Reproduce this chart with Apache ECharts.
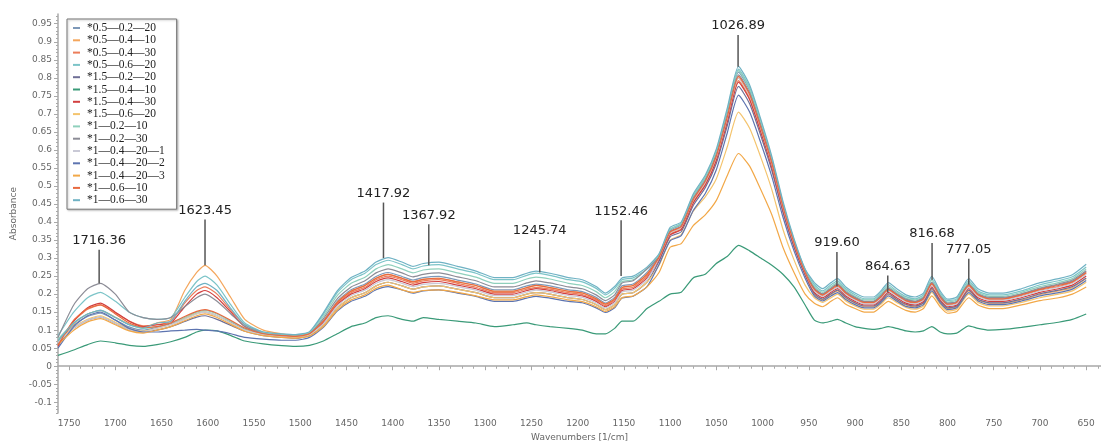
<!DOCTYPE html>
<html>
<head>
<meta charset="utf-8">
<script src="https://cdn.jsdelivr.net/npm/echarts@6/dist/echarts.min.js"></script>
<style>
html,body{margin:0;padding:0;background:#fff;}
#chart{width:1101px;height:447px;}
</style>
</head>
<body>
<div id="chart"></div>
<script>
// Wavenumbers (cm^-1)
const wavenumbers = [1762,1745,1730,1716,1700,1685,1670,1655,1640,1625,1612,1603,1590,1575,1560,1540,1520,1505,1490,1475,1460,1445,1430,1418,1405,1390,1378,1367,1350,1330,1310,1290,1270,1255,1245,1230,1210,1195,1180,1170,1160,1152,1140,1125,1112,1100,1088,1075,1062,1050,1038,1026,1014,1002,990,978,966,954,944,935,926,919,910,900,890,880,872,864,855,845,835,826,817,808,800,790,777,767,755,740,720,700,680,665,650];

const seriesNames = ['*0.5\u20140.2\u201420','*0.5\u20140.4\u201410','*0.5\u20140.4\u201430','*0.5\u20140.6\u201420','*1.5\u20140.2\u201420','*1.5\u20140.4\u201410','*1.5\u20140.4\u201430','*1.5\u20140.6\u201420','*1\u20140.2\u201410','*1\u20140.2\u201430','*1\u20140.4\u201420\u20141','*1\u20140.4\u201420\u20142','*1\u20140.4\u201420\u20143','*1\u20140.6\u201410','*1\u20140.6\u201430'];

const s1 = [0.072,0.114,0.138,0.147,0.128,0.109,0.1, 0.108,0.118,0.132,0.146,0.15,0.14,0.122,0.103, 0.09,0.085,0.084,0.092, 0.127,0.18,0.212,0.228,0.249,0.26,0.249,0.239,0.246,0.249,0.239,0.228,0.212,0.212,0.223,0.228,0.223,0.212,0.207,0.191,0.175,0.191,0.223,0.228,0.26, 0.306,0.377,0.393,0.469,0.52,0.592,0.704,0.816,0.765,0.673,0.571,0.449,0.347,0.265, 0.215,0.2,0.215,0.226,0.205,0.189,0.179,0.179,0.194,0.215,0.2,0.184,0.179,0.189,0.231,0.194,0.173,0.179,0.226,0.2,0.189,0.189,0.2,0.215,0.226,0.236,0.263];
const s2 = [0.07,0.118,0.145,0.155,0.136,0.116,0.108, 0.12,0.13,0.21,0.26,0.28,0.25,0.19,0.13, 0.1,0.09,0.086,0.092, 0.125,0.177,0.208,0.224,0.244,0.255,0.244,0.234,0.241,0.244,0.234,0.224,0.208,0.208,0.218,0.224,0.218,0.208,0.203,0.187,0.172,0.187,0.218,0.224,0.255, 0.30,0.37,0.385,0.46,0.51,0.58,0.69,0.80,0.75,0.66,0.56,0.44,0.34,0.26, 0.199,0.184,0.199,0.209,0.189,0.175,0.165,0.165,0.179,0.199,0.184,0.17,0.165,0.175,0.213,0.179,0.16,0.165,0.209,0.184,0.175,0.175,0.184,0.199,0.209,0.218,0.243];
const s3 = [0.06,0.125,0.158,0.17,0.148,0.125,0.112, 0.115,0.125,0.175,0.21,0.22,0.20,0.155,0.115, 0.092,0.084,0.082,0.09, 0.122,0.173,0.204,0.219,0.24,0.25,0.24,0.23,0.237,0.24,0.23,0.219,0.204,0.204,0.214,0.219,0.214,0.204,0.199,0.184,0.168,0.184,0.214,0.219,0.25, 0.297,0.366,0.381,0.455,0.505,0.574,0.683,0.792,0.743,0.653,0.554,0.436,0.337,0.257, 0.211,0.196,0.211,0.221,0.201,0.185,0.175,0.175,0.191,0.211,0.196,0.18,0.175,0.185,0.227,0.191,0.17,0.175,0.221,0.196,0.185,0.185,0.196,0.211,0.221,0.232,0.258];
const s4 = [0.085,0.15,0.19,0.205,0.18,0.15,0.135, 0.13,0.135,0.19,0.235,0.25,0.225,0.17,0.12, 0.095,0.088,0.086,0.094, 0.144,0.204,0.24,0.258,0.282,0.294,0.282,0.27,0.278,0.282,0.27,0.258,0.24,0.24,0.252,0.258,0.252,0.24,0.234,0.216,0.198,0.216,0.24,0.245,0.27, 0.31,0.38,0.397,0.474,0.525,0.597,0.711,0.824,0.773,0.68,0.577,0.453,0.35,0.268, 0.226,0.209,0.226,0.237,0.215,0.198,0.187,0.187,0.204,0.226,0.209,0.193,0.187,0.198,0.242,0.204,0.182,0.187,0.237,0.209,0.198,0.198,0.209,0.226,0.237,0.248,0.275];
const s5 = [0.062,0.106,0.128,0.136,0.119,0.101,0.095, 0.1,0.11,0.124,0.136,0.14,0.13,0.113,0.097, 0.085,0.08,0.078,0.085, 0.114,0.162,0.19,0.204,0.223,0.233,0.223,0.214,0.22,0.223,0.214,0.204,0.19,0.19,0.2,0.204,0.2,0.19,0.185,0.171,0.157,0.171,0.2,0.204,0.233, 0.291,0.359,0.373,0.446,0.495,0.563,0.669,0.776,0.728,0.64,0.543,0.427,0.33,0.252, 0.201,0.186,0.201,0.211,0.191,0.176,0.167,0.167,0.181,0.201,0.186,0.172,0.167,0.176,0.216,0.181,0.162,0.167,0.211,0.186,0.176,0.176,0.186,0.201,0.211,0.221,0.245];
const s6 = [0.03,0.045,0.06,0.07,0.065,0.058,0.055, 0.06,0.068,0.08,0.095,0.10,0.098,0.085,0.07, 0.062,0.057,0.055,0.058, 0.07,0.09,0.11,0.12,0.135,0.14,0.13,0.125,0.135,0.13,0.125,0.12,0.11,0.115,0.12,0.115,0.11,0.105,0.10,0.09,0.09,0.105,0.125,0.125,0.16, 0.18,0.20,0.205,0.245,0.255,0.285,0.305,0.335,0.32,0.30,0.28,0.255,0.22,0.17, 0.128,0.12,0.125,0.13,0.12,0.11,0.105,0.102,0.105,0.11,0.105,0.098,0.095,0.098,0.11,0.095,0.09,0.092,0.112,0.105,0.10,0.102,0.108,0.115,0.122,0.13,0.145];
const s7 = [0.055,0.125,0.162,0.175,0.15,0.125,0.11, 0.115,0.12,0.165,0.20,0.21,0.19,0.15,0.11, 0.09,0.083,0.08,0.088, 0.12,0.17,0.20,0.215,0.235,0.245,0.235,0.225,0.232,0.235,0.225,0.215,0.20,0.20,0.21,0.215,0.21,0.20,0.195,0.18,0.165,0.18,0.21,0.215,0.245, 0.296,0.364,0.379,0.453,0.502,0.571,0.68,0.788,0.739,0.65,0.552,0.433,0.335,0.256, 0.205,0.19,0.205,0.215,0.195,0.18,0.17,0.17,0.185,0.205,0.19,0.175,0.17,0.18,0.22,0.185,0.165,0.17,0.215,0.19,0.18,0.18,0.19,0.205,0.215,0.225,0.25];
const s8 = [0.068,0.108,0.13,0.14,0.122,0.104,0.097, 0.105,0.115,0.132,0.146,0.15,0.14,0.12,0.1, 0.088,0.082,0.08,0.087, 0.114,0.162,0.19,0.204,0.223,0.233,0.223,0.214,0.22,0.223,0.214,0.204,0.19,0.19,0.2,0.204,0.2,0.19,0.185,0.171,0.157,0.171,0.2,0.204,0.233, 0.28,0.35,0.365,0.43,0.47,0.52,0.61,0.705,0.66,0.58,0.49,0.38,0.295,0.225, 0.19,0.177,0.19,0.2,0.181,0.167,0.158,0.158,0.172,0.19,0.177,0.163,0.158,0.167,0.205,0.172,0.153,0.158,0.2,0.177,0.167,0.167,0.177,0.19,0.2,0.209,0.233];
const s9 = [0.075,0.12,0.145,0.155,0.135,0.115,0.105, 0.11,0.12,0.135,0.15,0.155,0.145,0.125,0.105, 0.092,0.087,0.085,0.092, 0.138,0.196,0.23,0.247,0.27,0.282,0.27,0.259,0.267,0.27,0.259,0.247,0.23,0.23,0.242,0.247,0.242,0.23,0.224,0.207,0.19,0.207,0.235,0.24,0.27, 0.308,0.379,0.395,0.472,0.523,0.595,0.707,0.82,0.769,0.677,0.574,0.451,0.349,0.267, 0.221,0.205,0.221,0.232,0.211,0.194,0.184,0.184,0.2,0.221,0.205,0.189,0.184,0.194,0.238,0.2,0.178,0.184,0.232,0.205,0.194,0.194,0.205,0.221,0.232,0.243,0.27];
const s10 = [0.08,0.17,0.215,0.23,0.2,0.15,0.135, 0.13,0.135,0.165,0.19,0.20,0.18,0.145,0.11, 0.09,0.085,0.083,0.09, 0.132,0.187,0.22,0.237,0.259,0.27,0.259,0.248,0.255,0.259,0.248,0.237,0.22,0.22,0.231,0.237,0.231,0.22,0.215,0.198,0.182,0.198,0.231,0.237,0.27, 0.303,0.374,0.389,0.465,0.515,0.586,0.697,0.808,0.758,0.667,0.566,0.444,0.343,0.263, 0.217,0.201,0.217,0.228,0.207,0.191,0.18,0.18,0.196,0.217,0.201,0.186,0.18,0.191,0.233,0.196,0.175,0.18,0.228,0.201,0.191,0.191,0.201,0.217,0.228,0.239,0.265];
const s11 = [0.066,0.106,0.128,0.136,0.119,0.101,0.095, 0.105,0.115,0.13,0.145,0.15,0.14,0.12,0.1, 0.088,0.083,0.081,0.088, 0.118,0.167,0.196,0.211,0.23,0.24,0.23,0.221,0.227,0.23,0.221,0.211,0.196,0.196,0.206,0.211,0.206,0.196,0.191,0.176,0.162,0.176,0.206,0.211,0.24, 0.30,0.37,0.385,0.46,0.51,0.58,0.69,0.80,0.75,0.66,0.56,0.44,0.34,0.26, 0.209,0.194,0.209,0.219,0.199,0.184,0.173,0.173,0.189,0.209,0.194,0.179,0.173,0.184,0.224,0.189,0.168,0.173,0.219,0.194,0.184,0.184,0.194,0.209,0.219,0.23,0.255];
const s12 = [0.05,0.11,0.14,0.15,0.128,0.105,0.095, 0.095,0.098,0.1,0.102,0.10,0.098,0.09,0.08, 0.075,0.072,0.072,0.08, 0.108,0.153,0.18,0.194,0.212,0.221,0.212,0.203,0.209,0.212,0.203,0.194,0.18,0.18,0.189,0.194,0.189,0.18,0.176,0.162,0.149,0.162,0.189,0.194,0.221, 0.282,0.348,0.362,0.432,0.479,0.545,0.649,0.752,0.705,0.62,0.526,0.414,0.32,0.244, 0.195,0.181,0.195,0.204,0.185,0.171,0.162,0.162,0.176,0.195,0.181,0.166,0.162,0.171,0.209,0.176,0.157,0.162,0.204,0.181,0.171,0.171,0.181,0.195,0.204,0.214,0.238];
const s13 = [0.06,0.1,0.123,0.132,0.115,0.098,0.092, 0.1,0.11,0.126,0.14,0.145,0.135,0.116,0.097, 0.085,0.08,0.078,0.084, 0.11,0.156,0.184,0.198,0.216,0.225,0.212,0.205,0.21,0.212,0.205,0.195,0.184,0.184,0.193,0.198,0.193,0.184,0.179,0.165,0.152,0.165,0.19,0.195,0.22, 0.26,0.33,0.34,0.39,0.42,0.46,0.53,0.59,0.555,0.49,0.42,0.33,0.26,0.2, 0.175,0.165,0.18,0.19,0.172,0.16,0.15,0.15,0.165,0.18,0.168,0.155,0.15,0.16,0.195,0.165,0.147,0.152,0.19,0.17,0.16,0.16,0.17,0.182,0.19,0.2,0.22];
const s14 = [0.058,0.128,0.16,0.17,0.145,0.12,0.108, 0.11,0.12,0.138,0.152,0.157,0.147,0.127,0.106, 0.09,0.085,0.083,0.09, 0.125,0.177,0.208,0.224,0.244,0.255,0.244,0.234,0.241,0.244,0.234,0.224,0.208,0.208,0.218,0.224,0.218,0.208,0.203,0.187,0.172,0.187,0.218,0.224,0.255, 0.302,0.372,0.387,0.462,0.513,0.583,0.693,0.804,0.754,0.663,0.563,0.442,0.342,0.261, 0.213,0.198,0.213,0.224,0.203,0.187,0.177,0.177,0.192,0.213,0.198,0.182,0.177,0.187,0.229,0.192,0.172,0.177,0.224,0.198,0.187,0.187,0.198,0.213,0.224,0.234,0.26];
const s15 = [0.07,0.12,0.145,0.155,0.135,0.115,0.106, 0.12,0.125,0.18,0.22,0.23,0.21,0.16,0.115, 0.095,0.09,0.088,0.096, 0.148,0.209,0.246,0.264,0.289,0.301,0.289,0.277,0.285,0.289,0.277,0.264,0.246,0.246,0.258,0.264,0.258,0.246,0.24,0.221,0.203,0.221,0.245,0.25,0.275, 0.312,0.385,0.4,0.478,0.53,0.603,0.718,0.832,0.78,0.686,0.582,0.458,0.354,0.27, 0.232,0.215,0.232,0.243,0.22,0.203,0.192,0.192,0.209,0.232,0.215,0.198,0.192,0.203,0.249,0.209,0.186,0.192,0.243,0.215,0.203,0.203,0.215,0.232,0.243,0.254,0.283];

const seriesValues = [s1,s2,s3,s4,s5,s6,s7,s8,s9,s10,s11,s12,s13,s14,s15];
const seriesColors = ['#7d98b8','#f4a65c','#ec7d5a','#7cc4c8','#6f6f96','#3a9a78','#d23f3f','#f4c46e','#8fd0bc','#8c8c96','#c9c9d6','#5d74b0','#f2a848','#e8693f','#6fb2c4'];

// Peak annotations
const annText = ['1716.36','1623.45','1417.92','1367.92','1245.74','1152.46','1026.89','919.60','864.63','816.68','777.05'];
const annX = [1717.5,1603,1410,1361,1241,1153,1026.5,919.6,864.6,816.7,777];
const annTop = [0.323,0.407,0.454,0.394,0.35,0.405,0.919,0.317,0.252,0.342,0.298];
const annBottom = [0.23,0.28,0.30,0.28,0.26,0.25,0.831,0.221,0.205,0.24,0.227];

// Axis ticks
const xTickValues = [1750,1700,1650,1600,1550,1500,1450,1400,1350,1300,1250,1200,1150,1100,1050,1000,950,900,850,800,750,700,650];
const yTickValues = [-0.1,-0.05,0,0.05,0.1,0.15,0.2,0.25,0.3,0.35,0.4,0.45,0.5,0.55,0.6,0.65,0.7,0.75,0.8,0.85,0.9,0.95];
const X_MIN = 634, X_MAX = 1762, Y_MIN = -0.13, Y_MAX = 0.977;

const xMinor = [];
for (let v = 637.5; v <= X_MAX; v += 12.5) xMinor.push(v);
const yMinor = [];
for (let k = -13; k <= 97; k++) yMinor.push(+(k * 0.01).toFixed(2));

const axisColor = '#a8a8a8';
const labelFont = { color: '#666', fontSize: 9, fontFamily: 'DejaVu Sans' };

const series = seriesNames.map((name, i) => ({
  name: name,
  type: 'line',
  data: wavenumbers.map((w, j) => [w, seriesValues[i][j]]),
  showSymbol: false,
  symbol: 'none',
  smooth: 0.2,
  lineStyle: { width: 1.2, color: seriesColors[i] },
  itemStyle: { color: seriesColors[i] },
  emphasis: { disabled: true },
  z: 2
}));

series.push({
  type: 'custom',
  name: 'annotations',
  data: annX.map((x, i) => [x, annTop[i], annBottom[i]]),
  encode: { x: 0, y: [1, 2] },
  clip: false,
  silent: true,
  z: 10,
  renderItem: function (params, api) {
    const x = api.value(0);
    const top = api.coord([x, api.value(1)]);
    const bot = api.coord([x, api.value(2)]);
    return {
      type: 'group',
      children: [
        { type: 'line', shape: { x1: top[0], y1: top[1], x2: bot[0], y2: bot[1] },
          style: { stroke: '#555', lineWidth: 1.5 } },
        { type: 'text', x: top[0], y: top[1] - 9,
          style: { text: annText[params.dataIndex], fontSize: 13, fontFamily: 'DejaVu Sans',
                   fill: '#222', textAlign: 'center', textVerticalAlign: 'middle' } }
      ]
    };
  }
});

const chart = echarts.init(document.getElementById('chart'), null, { renderer: 'canvas' });
chart.setOption({
  animation: false,
  backgroundColor: '#fff',
  grid: { left: 58, top: 14, right: 0, bottom: 28, containLabel: false },
  legend: {
    data: seriesNames,
    orient: 'vertical',
    left: 67, top: 19,
    icon: 'rect',
    itemWidth: 7, itemHeight: 2,
    itemGap: 0.3,
    padding: [3, 12, 3, 6],
    backgroundColor: '#fff',
    borderColor: '#777',
    borderWidth: 1,
    shadowColor: 'rgba(0,0,0,0.25)',
    shadowBlur: 2, shadowOffsetX: 1, shadowOffsetY: 1,
    textStyle: { fontFamily: 'Liberation Serif', fontSize: 11.5, color: '#222', lineHeight: 12, padding: [0,0,0,2] },
    selectedMode: false
  },
  xAxis: [{
    type: 'value', inverse: true, min: X_MIN, max: X_MAX,
    name: 'Wavenumbers [1/cm]', nameLocation: 'middle', nameGap: 17,
    nameTextStyle: labelFont,
    splitLine: { show: false },
    axisLine: { show: true, lineStyle: { color: axisColor, width: 1.5 } },
    axisTick: { show: true, customValues: xTickValues, length: 4, lineStyle: { color: axisColor } },
    axisLabel: { customValues: xTickValues, margin: 6, ...labelFont,
      formatter: v => String(Math.round(v)) }
  }, {
    type: 'value', inverse: true, min: X_MIN, max: X_MAX, position: 'bottom',
    splitLine: { show: false },
    axisLine: { show: false },
    axisTick: { show: true, customValues: xMinor, length: 2.5, lineStyle: { color: axisColor } },
    axisLabel: { show: false }
  }],
  yAxis: [{
    type: 'value', min: Y_MIN, max: Y_MAX,
    name: 'Absorbance', nameLocation: 'middle', nameGap: 38, nameRotate: 90,
    nameTextStyle: labelFont,
    splitLine: { show: false },
    axisLine: { show: true, lineStyle: { color: axisColor, width: 1.5 } },
    axisTick: { show: true, customValues: yTickValues, length: 4, lineStyle: { color: axisColor } },
    axisLabel: { customValues: yTickValues, margin: 6, ...labelFont,
      formatter: v => String(parseFloat(Number(v).toFixed(2))) }
  }, {
    type: 'value', min: Y_MIN, max: Y_MAX, position: 'left',
    splitLine: { show: false },
    axisLine: { show: false },
    axisTick: { show: true, customValues: yMinor, length: 2, lineStyle: { color: axisColor } },
    axisLabel: { show: false }
  }],
  series: series
});
</script>
</body>
</html>
